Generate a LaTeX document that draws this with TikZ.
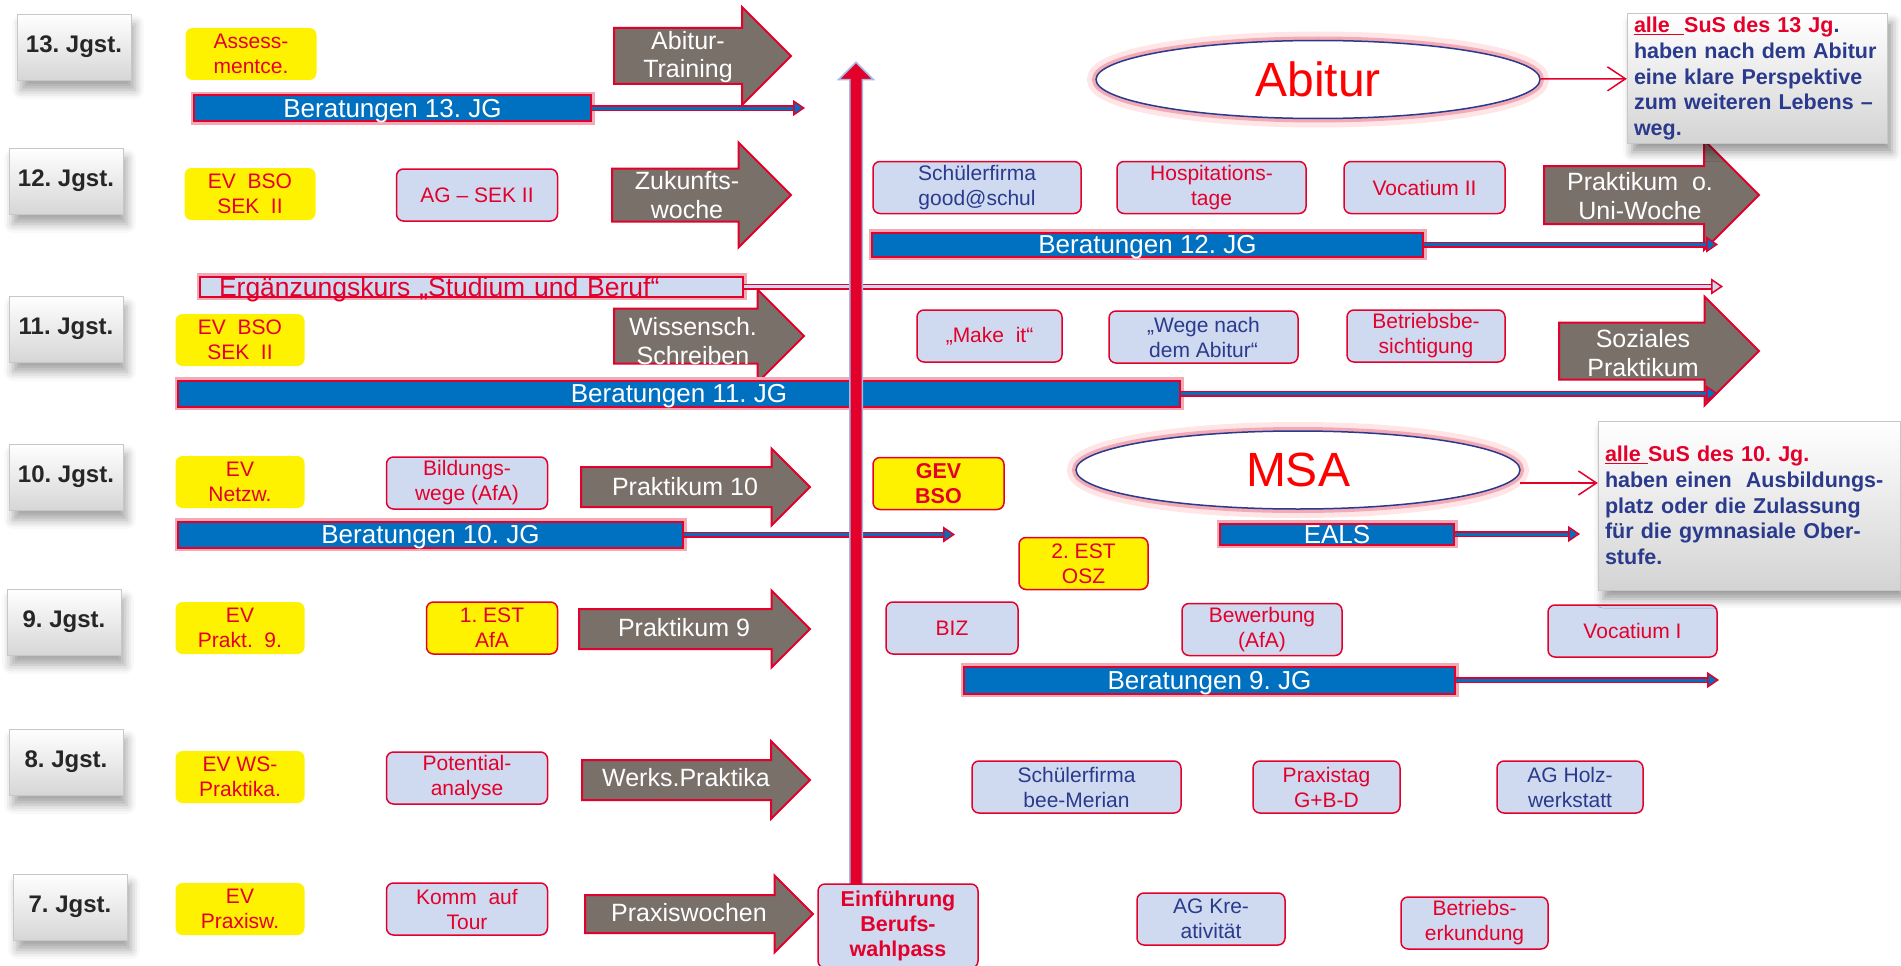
\documentclass[tikz,border=0pt]{standalone}
\usepackage{fontspec}
\setmainfont{Liberation Sans}
\usetikzlibrary{shapes.geometric,shapes.arrows,arrows.meta,shadows.blur}
\definecolor{mainred}{RGB}{227,0,43}
\definecolor{boxblue}{RGB}{207,218,240}
\definecolor{barblue}{RGB}{0,112,192}
\definecolor{txtblue}{RGB}{42,58,140}
\definecolor{arrowgrey}{RGB}{121,112,105}
\definecolor{glowpink}{RGB}{242,170,182}
\definecolor{edgeblue}{RGB}{165,185,228}
\begin{document}
\frenchspacing
\begin{tikzpicture}[x=1pt,y=-1pt,
  jgst/.style={draw=black!22,top color=white,bottom color=black!16,minimum width=114pt,minimum height=66pt,inner sep=0pt,text=black!85,font=\fontsize{24}{24}\selectfont\bfseries,blur shadow={shadow xshift=4pt,shadow yshift=-10pt,shadow blur radius=9pt,shadow opacity=35}},
  ybox/.style={fill=yellow,rounded corners=7pt,minimum width=129pt,minimum height=52pt,inner sep=1pt,align=center,text=mainred,font=\fontsize{21}{25}\selectfont},
  yrbox/.style={ybox,draw=mainred,line width=1.5pt},
  bbox/.style={fill=boxblue,draw=mainred,line width=1.5pt,rounded corners=7pt,minimum height=52pt,inner sep=1pt,align=center,text=mainred,font=\fontsize{21}{25}\selectfont},
  bluetxt/.style={text=txtblue},
  grarrow/.style={single arrow,fill=arrowgrey,draw=mainred,line width=2pt,anchor=tail,inner xsep=0pt},
  arrtxt/.style={text=white,align=center,font=\fontsize{25}{28.5}\selectfont},
  bar/.style={fill=barblue,draw=mainred,line width=2pt,inner ysep=0pt,text height=18.6pt,text depth=0pt,text=white,font=\fontsize{26}{26}\selectfont,preaction={draw=glowpink,line width=7pt}},
  thinarr/.style={draw=mainred,double=#1,double distance=3pt,line width=1.5pt,-{Triangle[length=12pt,width=16pt,fill=#1]}},
  thinarr/.default=barblue,
  ell/.style={ellipse,draw=txtblue,line width=1.5pt,fill=white,minimum width=444pt,minimum height=78pt,inner sep=0pt,text=red,font=\fontsize{48}{48}\selectfont,preaction={draw=red!10,line width=18pt},preaction={draw=glowpink,line width=8pt}},
  info/.style={draw=black!22,top color=white,bottom color=black!17,inner xsep=7pt,align=left,text=txtblue,font=\fontsize{21.5}{25.7}\selectfont\bfseries,blur shadow={shadow xshift=5pt,shadow yshift=-9pt,shadow blur radius=9pt,shadow opacity=40}},
  infoarr/.style={draw=mainred,line width=1.5pt,-{Straight Barb[length=18pt,width=24pt]}},
  upbar/.style={single arrow,rotate=90,fill=mainred,draw=edgeblue,line width=1.5pt,anchor=tail,inner xsep=0pt,inner ysep=5.5pt,single arrow head extend=11pt}]
\useasboundingbox (0,0) rectangle (1901,966);
\node[jgst] (j13) at (74,47) {13. Jgst.};
\node[jgst] (j12) at (66,181) {12. Jgst.};
\node[jgst] (j11) at (66,329) {11. Jgst.};
\node[jgst] (j10) at (66,477) {10. Jgst.};
\node[jgst] (j9) at (64,622) {9. Jgst.};
\node[jgst] (j8) at (66,762) {8. Jgst.};
\node[jgst] (j7) at (70,907) {7. Jgst.};
\node[ybox,minimum width=131pt] (ass) at (251,54) {Assess-\\mentce.};
\node[ybox,minimum width=131pt] (ev12) at (250,194) {EV\ \ BSO\\SEK\ \ II};
\node[ybox] (ev11) at (240,340) {EV\ \ BSO\\SEK\ \ II};
\node[ybox] (ev10) at (240,482) {EV\\Netzw.};
\node[ybox] (ev9) at (240,628) {EV\\Prakt.\ \ 9.};
\node[ybox] (ev8) at (240,777) {EV WS-\\Praktika.};
\node[ybox] (ev7) at (240,909) {EV\\Praxisw.};
\node[bbox,minimum width=161pt] (ag12) at (477,195) {AG – SEK II};
\node[bbox,minimum width=161pt] (bildung) at (467,483) {Bildungs-\\wege (AfA)};
\node[yrbox,minimum width=131pt] (est1) at (492,628) {1. EST\\AfA};
\node[bbox,minimum width=161pt] (potential) at (467,778) {Potential-\\analyse};
\node[bbox,minimum width=161pt] (komm) at (467,909) {Komm\ \ auf\\Tour};
\node[grarrow,minimum height=177pt,inner ysep=27pt,single arrow head extend=21pt] (abitrain) at (613,56) {};
\node[arrtxt] (abitrain-t) at (688,57) {Abitur-\\Training};
\node[grarrow,minimum height=179pt,inner ysep=25.5pt,single arrow head extend=26pt] (zukunft) at (611,195) {};
\node[arrtxt] (zukunft-t) at (687,195) {Zukunfts-\\woche};
\node[grarrow,minimum height=190pt,inner ysep=26.5pt,single arrow head extend=19pt] (wissen) at (613,336) {};
\node[arrtxt] (wissen-t) at (693,341) {Wissensch.\\Schreiben};
\node[grarrow,minimum height=229pt,inner ysep=19pt,single arrow head extend=18.5pt] (prak10) at (580,487) {};
\node[arrtxt] (prak10-t) at (685,487) {Praktikum 10};
\node[grarrow,minimum height=231pt,inner ysep=19pt,single arrow head extend=18.5pt] (prak9) at (578,629) {};
\node[arrtxt] (prak9-t) at (684,628) {Praktikum 9};
\node[grarrow,minimum height=228pt,inner ysep=19pt,single arrow head extend=19pt] (werks) at (581,780) {};
\node[arrtxt] (werks-t) at (686,778) {Werks.Praktika};
\node[grarrow,minimum height=228pt,inner ysep=18pt,single arrow head extend=19.5pt] (praxisw) at (584,914) {};
\node[arrtxt] (praxisw-t) at (689,913) {Praxiswochen};
\node[grarrow,minimum height=215pt,inner ysep=28pt,single arrow head extend=26pt] (uniwoche) at (1543,195) {};
\node[arrtxt] (uniwoche-t) at (1640,196) {Praktikum\ \ o.\\Uni-Woche};
\node[grarrow,minimum height=200pt,inner ysep=27.5pt,single arrow head extend=26pt] (sozial) at (1558,351) {};
\node[arrtxt] (sozial-t) at (1643,353) {Soziales\\Praktikum};
\node[bar,minimum width=397pt,minimum height=26pt] (ber13) at (392.5,108) {Beratungen 13. JG};
\coordinate (ber13end) at (805,108);
\draw[thinarr] (ber13) -- (ber13end);
\node[bar,minimum width=551pt,minimum height=24pt] (ber12) at (1147.5,244.5) {Beratungen 12. JG};
\coordinate (ber12end) at (1718,244.5);
\draw[thinarr] (ber12) -- (ber12end);
\node[bar,fill=boxblue,text=mainred,font=\fontsize{26.5}{26.5}\selectfont,minimum height=20pt,text height=19pt,text width=505pt,align=left,inner xsep=19pt] (erg) at (471.5,286.5) {Ergänzungskurs „Studium und Beruf“};
\coordinate (ergend) at (1723,286.5);
\draw[thinarr=boxblue] (erg) -- (ergend);
\node[bar,minimum width=1002pt,minimum height=26pt] (ber11) at (679,393.5) {Beratungen 11. JG};
\coordinate (ber11end) at (1718,393.5);
\draw[thinarr] (ber11) -- (ber11end);
\node[bar,minimum width=505pt,minimum height=26pt] (ber10) at (430.5,534.5) {Beratungen 10. JG};
\coordinate (ber10end) at (955,534.5);
\draw[thinarr] (ber10) -- (ber10end);
\node[bar,minimum width=234pt,minimum height=21pt] (eals) at (1337,534) {EALS};
\coordinate (ealsend) at (1580,534);
\draw[thinarr] (eals) -- (ealsend);
\node[bar,minimum width=491pt,minimum height=27pt] (ber9) at (1209.5,680) {Beratungen 9. JG};
\coordinate (ber9end) at (1719,680);
\draw[thinarr] (ber9) -- (ber9end);
\node[upbar,minimum height=823pt] (berufsweg) at (856,886) {};
\node[bbox,minimum width=160pt,minimum height=84pt,font=\fontsize{21.5}{25}\selectfont\bfseries] (einf) at (898,926) {Einführung\\Berufs-\\wahlpass};
\node[bbox,bluetxt,minimum width=208pt] (firma12) at (977,187.5) {Schülerfirma\\good@schul};
\node[bbox,minimum width=189pt] (hospit) at (1211.5,187.5) {Hospitations-\\tage};
\node[bbox,minimum width=161pt] (vocat2) at (1424.5,187.5) {Vocatium II};
\node[bbox,minimum width=145pt] (makeit) at (989.5,336) {„Make\ \ it“};
\node[bbox,bluetxt,minimum width=189pt] (wege) at (1203.5,337) {„Wege nach\\dem Abitur“};
\node[bbox,minimum width=158pt] (betrbes) at (1426,336) {Betriebsbe-\\sichtigung};
\node[yrbox,minimum width=131pt,font=\fontsize{21.5}{25}\selectfont\bfseries] (gev) at (938.5,483.5) {GEV\\BSO};
\node[yrbox,minimum width=129pt] (est2) at (1083.5,563.5) {2. EST\\OSZ};
\node[bbox,minimum width=132pt] (biz) at (952,628) {BIZ};
\node[bbox,minimum width=160pt] (bewerb) at (1262,629.5) {Bewerbung\\(AfA)};
\node[bbox,minimum width=169pt] (vocat1) at (1632.5,631) {Vocatium I};
\node[bbox,bluetxt,minimum width=209pt] (firma8) at (1076.5,787) {Schülerfirma\\bee-Merian};
\node[bbox,minimum width=147pt] (praxistag) at (1326.5,787) {Praxistag\\G+B-D};
\node[bbox,bluetxt,minimum width=146pt] (agholz) at (1570,787) {AG Holz-\\werkstatt};
\node[bbox,bluetxt,minimum width=148pt] (agkrea) at (1211,919) {AG Kre-\\ativität};
\node[bbox,minimum width=147pt] (betrerk) at (1474.5,923) {Betriebs-\\erkundung};
\node[ell] (abitur) at (1318,79.5) {Abitur};
\node[ell] (msa) at (1298,470) {MSA};
\node[info,text width=246pt,minimum height=129pt] (info13) at (1757,78.5) {{\color{mainred}\underline{alle\ \ }SuS des 13 Jg}.\\haben nach dem Abitur\\eine klare Perspektive\\zum weiteren Lebens –\\weg.};
\node[info,text width=288pt,minimum height=169pt] (info10) at (1749,505.5) {{\color{mainred}\underline{alle\ }SuS des 10. Jg.}\\haben einen\ \ Ausbildungs-\\platz oder die Zulassung\\für die gymnasiale Ober-\\stufe.};
\draw[infoarr] (abitur) -- (info13);
\coordinate (msaout) at (1520,483);
\draw[infoarr] (msaout) -- (msaout -| info10.west);
\end{tikzpicture}
\end{document}
